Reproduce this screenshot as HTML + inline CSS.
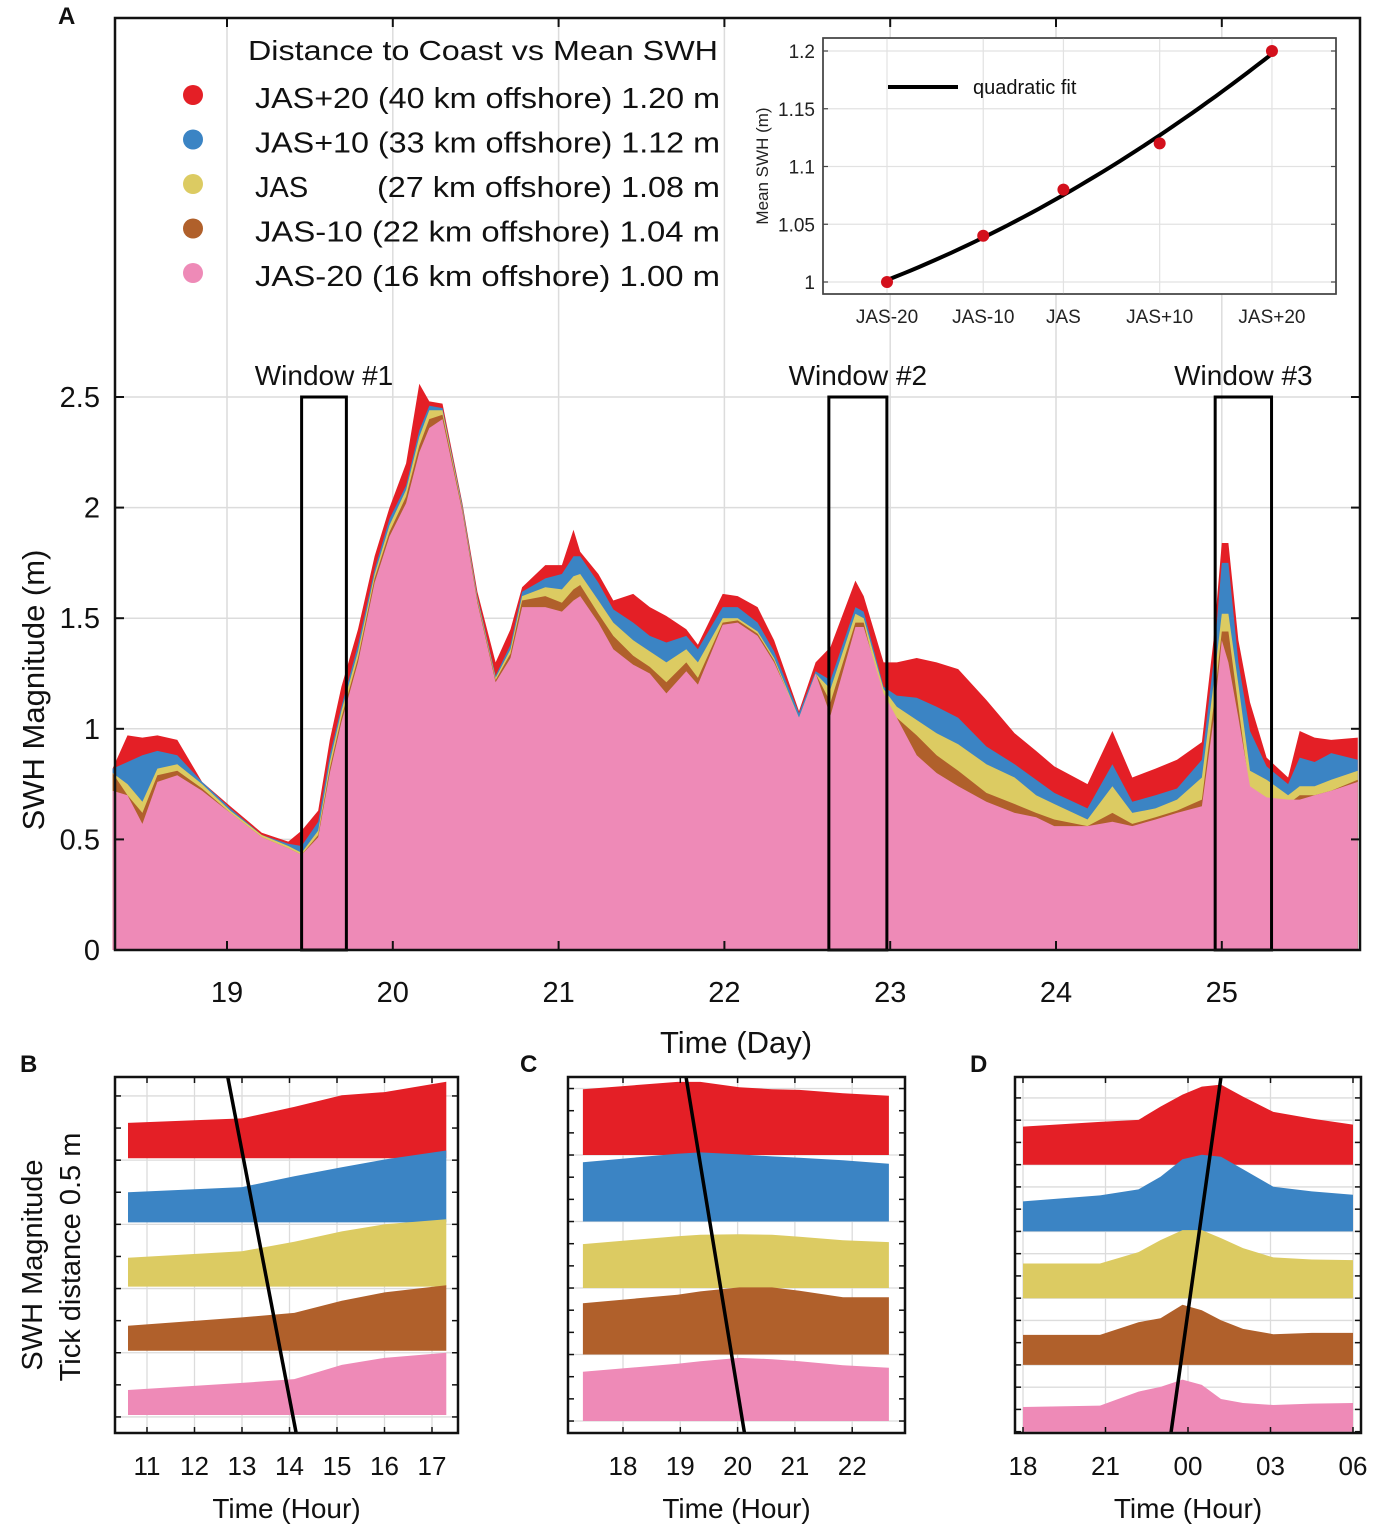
<!DOCTYPE html>
<html><head><meta charset="utf-8"><style>
html,body{margin:0;padding:0;background:#fff}
svg{display:block;font-family:"Liberation Sans",Arial,sans-serif}
</style></head><body>
<svg id="fig" width="1382" height="1540" viewBox="0 0 1382 1540" xmlns="http://www.w3.org/2000/svg">
<g id="mainG"></g>
<g id="insetG"></g>
<g id="bG"></g>
<g id="cG"></g>
<g id="dG"></g>
</svg>
<script>
// ---------- Panel A data ----------
const days = [18.31,18.40,18.49,18.58,18.70,18.85,19.02,19.21,19.37,19.45,19.55,19.62,19.69,19.79,19.89,19.98,20.08,20.16,20.22,20.30,20.42,20.51,20.62,20.71,20.78,20.92,21.02,21.09,21.13,21.24,21.33,21.45,21.55,21.65,21.77,21.84,21.99,22.08,22.20,22.30,22.45,22.55,22.64,22.79,22.84,22.96,23.04,23.16,23.28,23.41,23.58,23.75,23.88,23.99,24.19,24.34,24.46,24.60,24.73,24.88,24.95,25.00,25.04,25.10,25.17,25.27,25.40,25.47,25.56,25.66,25.82];
const swhPink = [0.72,0.70,0.57,0.76,0.79,0.72,0.62,0.51,0.46,0.43,0.51,0.80,1.03,1.30,1.66,1.87,2.02,2.25,2.36,2.40,1.98,1.57,1.21,1.32,1.55,1.55,1.53,1.58,1.60,1.48,1.36,1.29,1.25,1.16,1.26,1.20,1.47,1.48,1.42,1.30,1.05,1.25,1.06,1.46,1.46,1.16,1.05,0.88,0.80,0.74,0.67,0.62,0.60,0.56,0.56,0.58,0.56,0.59,0.62,0.65,1.04,1.40,1.30,1.05,0.74,0.69,0.68,0.68,0.70,0.72,0.76];
const swhBrown = [0.80,0.70,0.62,0.79,0.81,0.73,0.62,0.51,0.46,0.43,0.52,0.82,1.05,1.32,1.68,1.89,2.05,2.28,2.40,2.42,1.99,1.58,1.22,1.34,1.58,1.60,1.57,1.63,1.65,1.52,1.42,1.33,1.28,1.21,1.30,1.23,1.48,1.49,1.43,1.31,1.04,1.25,1.12,1.48,1.48,1.12,1.05,0.97,0.88,0.81,0.71,0.66,0.62,0.59,0.56,0.62,0.57,0.60,0.63,0.68,1.10,1.44,1.44,1.10,0.71,0.68,0.66,0.70,0.70,0.72,0.77];
const swhYellow = [0.80,0.75,0.67,0.82,0.84,0.75,0.63,0.52,0.47,0.44,0.54,0.85,1.08,1.35,1.70,1.92,2.08,2.32,2.44,2.44,2.00,1.59,1.23,1.36,1.60,1.64,1.63,1.69,1.70,1.58,1.48,1.40,1.35,1.30,1.36,1.30,1.50,1.50,1.44,1.32,1.05,1.25,1.18,1.52,1.50,1.18,1.10,1.04,0.98,0.93,0.84,0.78,0.70,0.66,0.59,0.74,0.62,0.64,0.68,0.78,1.20,1.52,1.52,1.20,0.81,0.77,0.70,0.74,0.74,0.77,0.81];
const swhBlue = [0.82,0.85,0.88,0.90,0.88,0.76,0.64,0.52,0.48,0.47,0.58,0.88,1.10,1.38,1.72,1.95,2.10,2.35,2.46,2.45,2.01,1.60,1.24,1.38,1.62,1.68,1.70,1.78,1.78,1.66,1.54,1.48,1.42,1.39,1.42,1.36,1.55,1.55,1.48,1.35,1.07,1.26,1.22,1.55,1.53,1.19,1.15,1.14,1.10,1.05,0.92,0.84,0.77,0.71,0.64,0.84,0.67,0.70,0.73,0.86,1.30,1.75,1.75,1.30,0.99,0.83,0.75,0.87,0.85,0.89,0.86];
const swhRed = [0.82,0.97,0.96,0.97,0.95,0.76,0.65,0.53,0.49,0.54,0.63,0.95,1.19,1.45,1.78,2.00,2.20,2.56,2.48,2.47,2.02,1.62,1.30,1.45,1.64,1.74,1.74,1.90,1.80,1.70,1.58,1.61,1.55,1.51,1.45,1.38,1.61,1.60,1.55,1.40,1.08,1.30,1.37,1.67,1.60,1.30,1.30,1.32,1.30,1.27,1.13,0.98,0.90,0.83,0.75,0.99,0.78,0.82,0.86,0.94,1.40,1.84,1.84,1.40,1.12,0.87,0.78,0.99,0.96,0.95,0.96];
const dayTicks = [19,20,21,22,23,24,25];
const swhTicks = [0,0.5,1,1.5,2,2.5];
const swhTickLabels = ["0","0.5","1","1.5","2","2.5"];
const windowStarts = [19.45,22.63,24.96];
const windowEnds = [19.72,22.98,25.30];
const windowLabels = ["Window #1","Window #2","Window #3"];
const legendLabels = ["JAS+20 (40 km offshore) 1.20 m","JAS+10 (33 km offshore) 1.12 m","JAS","JAS-10  (22 km offshore) 1.04 m","JAS-20  (16 km offshore) 1.00 m"];
// ---------- Inset data ----------
const insetCats = ["JAS-20","JAS-10","JAS","JAS+10","JAS+20"];
const insetKm = [16,22,27,33,40];
const insetMean = [1.00,1.04,1.08,1.12,1.20];
const insetTicks = [1,1.05,1.1,1.15,1.2];
const insetTickLabels = ["1","1.05","1.1","1.15","1.2"];
// ---------- Panel B data ----------
const bHours = [10.6,13.0,14.1,15.1,16.0,17.3];
const bRed = [0.55,0.62,0.80,0.98,1.03,1.19];
const bBlue = [0.47,0.55,0.72,0.86,0.98,1.12];
const bYellow = [0.45,0.55,0.70,0.86,0.97,1.05];
const bBrown = [0.39,0.52,0.59,0.78,0.91,1.02];
const bPink = [0.39,0.50,0.56,0.78,0.89,0.97];
const bTicks = [11,12,13,14,15,16,17];
const bTickLabels = ["11","12","13","14","15","16","17"];
const bLineHours = [12.7,14.14];
// ---------- Panel C data ----------
const cHours = [17.3,18.95,19.35,20.03,20.6,21.08,21.84,22.64];
const cRed = [0.99,1.10,1.10,1.02,0.99,0.98,0.93,0.89];
const cBlue = [0.89,1.02,1.04,1.01,0.98,0.96,0.92,0.87];
const cYellow = [0.66,0.78,0.80,0.81,0.80,0.77,0.72,0.69];
const cBrown = [0.77,0.90,0.95,1.01,1.01,0.96,0.86,0.86];
const cPink = [0.74,0.86,0.90,0.95,0.93,0.90,0.84,0.80];
const cTicks = [18,19,20,21,22];
const cTickLabels = ["18","19","20","21","22"];
const cLineHours = [19.1,20.12];
// ---------- Panel D data ----------
const dHours = [18,20.8,22.2,23.0,23.8,24.5,25.2,26.0,27.1,28.5,30];
const dRed = [0.57,0.64,0.67,0.87,1.05,1.17,1.20,1.02,0.79,0.69,0.60];
const dBlue = [0.45,0.54,0.63,0.82,1.08,1.15,1.12,0.93,0.67,0.60,0.55];
const dYellow = [0.52,0.52,0.69,0.87,1.02,1.02,0.90,0.75,0.61,0.58,0.57];
const dBrown = [0.45,0.45,0.64,0.70,0.90,0.82,0.67,0.54,0.46,0.48,0.48];
const dPink = [0.37,0.39,0.60,0.67,0.78,0.70,0.49,0.43,0.40,0.42,0.43];
const dTicks = [18,21,24,27,30];
const dTickLabels = ["18","21","00","03","06"];
const dLineHours = [25.2,23.38];

const COLORS = {red:"#e41f26",blue:"#3b84c4",yellow:"#dccb62",brown:"#b0602b",pink:"#ee8ab7"};
const NS = "http://www.w3.org/2000/svg";
function mk(parent, tag, attrs, text){
  const el = document.createElementNS(NS, tag);
  for (const k in attrs) el.setAttribute(k, attrs[k]);
  if (text !== undefined) el.textContent = text;
  parent.appendChild(el);
  return el;
}

// ================= PANEL A =================
(function(){
  const g = document.getElementById('mainG');
  const L=115, R=1360, T=18, B=950;
  const X = d => 227 + (d-19)*165.8;
  const Y = v => 950 - v*221.2;
  // gridlines
  dayTicks.forEach(d=>{
    const l = mk(g,'line',{x1:X(d),x2:X(d),y1:T,y2:B,stroke:'#dcdcdc','stroke-width':1.5});
    
    
  });
  swhTicks.forEach(v=>{
    if(v===0) return;
    const l = mk(g,'line',{x1:L,x2:R,y1:Y(v),y2:Y(v),stroke:'#dcdcdc','stroke-width':1.5});
    
    
  });
  const series = [["red",swhRed],["blue",swhBlue],["yellow",swhYellow],["brown",swhBrown],["pink",swhPink]];
  series.forEach(([name,vals])=>{
    let d = `M${X(days[0])},${Y(0)}`;
    vals.forEach((v,i)=>{ d += ` L${X(days[i]).toFixed(1)},${Y(v).toFixed(1)}`; });
    d += ` L${X(days[days.length-1])},${Y(0)} Z`;
    const p = mk(g,'path',{d:d,fill:COLORS[name]});
    
    
  });
  // windows
  windowStarts.forEach((s,i)=>{
    const r = mk(g,'rect',{x:X(s),y:Y(2.5),width:X(windowEnds[i])-X(s),height:Y(0)-Y(2.5),fill:'none',stroke:'#000','stroke-width':3});
    
    
    const t = mk(g,'text',{x:(X(s)+X(windowEnds[i]))/2,y:Y(2.5)-12,'font-size':28,'text-anchor':'middle',fill:'#111'},windowLabels[i]);
    
    
  });
  // axes box
  const ax = mk(g,'rect',{x:L,y:T,width:R-L,height:B-T,fill:'none',stroke:'#111','stroke-width':2.5});
  
  
  dayTicks.forEach((d,i)=>{
    mk(g,'line',{x1:X(d),x2:X(d),y1:T,y2:T+9,stroke:'#111','stroke-width':2});
    mk(g,'line',{x1:X(d),x2:X(d),y1:B,y2:B-9,stroke:'#111','stroke-width':2});
    const t = mk(g,'text',{x:X(d),y:1002,'font-size':29,'text-anchor':'middle',fill:'#111'},String(d));
    
    
  });
  swhTicks.forEach((v,i)=>{
    mk(g,'line',{x1:L,x2:L+9,y1:Y(v),y2:Y(v),stroke:'#111','stroke-width':2});
    mk(g,'line',{x1:R,x2:R-9,y1:Y(v),y2:Y(v),stroke:'#111','stroke-width':2});
    const t = mk(g,'text',{x:100,y:Y(v)+10,'font-size':29,'text-anchor':'end',fill:'#111'},swhTickLabels[i]);
    
    
  });
  const xl = mk(g,'text',{x:736,y:1053,'font-size':31,'text-anchor':'middle',fill:'#111'},'Time (Day)');
  
  
  const yl = mk(g,'text',{x:0,y:0,'font-size':31,'text-anchor':'middle',fill:'#111',transform:'translate(44,690) rotate(-90)'},'SWH Magnitude (m)');
  
  
  const pa = mk(g,'text',{x:58,y:24,'font-size':24,'font-weight':'bold',fill:'#111'},'A');
  
  
  // legend
  const lt = mk(g,'text',{x:248,y:60,'font-size':28,fill:'#111',textLength:470,lengthAdjust:'spacingAndGlyphs'},'Distance to Coast vs Mean SWH');
  
  
  const lcolors = ["red","blue","yellow","brown","pink"];
  lcolors.forEach((c,i)=>{
    const cy = 97 + i*44.5;
    const dot = mk(g,'circle',{cx:193,cy:cy-2,r:10,fill:COLORS[c]});
    
    
    if(i===2){
      const t1 = mk(g,'text',{x:255,y:cy+11,'font-size':29,fill:'#111'},'JAS');
      
      
      const t2 = mk(g,'text',{x:377,y:cy+11,'font-size':29,fill:'#111',textLength:343,lengthAdjust:'spacingAndGlyphs'},'(27 km offshore) 1.08 m');
      
      
    } else {
      const t = mk(g,'text',{x:255,y:cy+11,'font-size':29,fill:'#111',textLength:465,lengthAdjust:'spacingAndGlyphs','xml:space':'preserve'},legendLabels[i]);
      
      
    }
  });
})();

// ================= INSET =================
(function(){
  const g = document.getElementById('insetG');
  const L=823, R=1336, T=38, B=294;
  const X = km => 887 + (km-16)*16.04;
  const Y = v => 282 - (v-1)*1155;
  const bg = mk(g,'rect',{x:L,y:T,width:R-L,height:B-T,fill:'#fff',stroke:'#444','stroke-width':1.5});
  
  
  insetKm.forEach(k=>{ mk(g,'line',{x1:X(k),x2:X(k),y1:T,y2:B,stroke:'#e2e2e2','stroke-width':1.2}); });
  insetTicks.forEach((v,i)=>{
    mk(g,'line',{x1:L,x2:R,y1:Y(v),y2:Y(v),stroke:'#e2e2e2','stroke-width':1.2});
    mk(g,'line',{x1:L,x2:L+5,y1:Y(v),y2:Y(v),stroke:'#444','stroke-width':1.2});
    mk(g,'line',{x1:R,x2:R-5,y1:Y(v),y2:Y(v),stroke:'#444','stroke-width':1.2});
    const t = mk(g,'text',{x:815,y:Y(v)+7,'font-size':19,'text-anchor':'end',fill:'#222'},insetTickLabels[i]);
    
    
  });
  insetCats.forEach((c,i)=>{
    const t = mk(g,'text',{x:X(insetKm[i]),y:323,'font-size':19,'text-anchor':'middle',fill:'#222'},c);
    
    
  });
  mk(g,'rect',{x:L,y:T,width:R-L,height:B-T,fill:'none',stroke:'#444','stroke-width':1.5});
  // quadratic least-squares fit
  const n=insetKm.length; let S=[0,0,0,0,0], Ty=[0,0,0];
  for(let i=0;i<n;i++){const x=insetKm[i],y=insetMean[i];for(let p=0;p<5;p++)S[p]+=Math.pow(x,p);for(let p=0;p<3;p++)Ty[p]+=y*Math.pow(x,p);}
  const M=[[S[0],S[1],S[2],Ty[0]],[S[1],S[2],S[3],Ty[1]],[S[2],S[3],S[4],Ty[2]]];
  for(let i=0;i<3;i++){for(let j=i+1;j<3;j++){const f=M[j][i]/M[i][i];for(let k=i;k<4;k++)M[j][k]-=f*M[i][k];}}
  const cf=[0,0,0];
  for(let i=2;i>=0;i--){let s=M[i][3];for(let k=i+1;k<3;k++)s-=M[i][k]*cf[k];cf[i]=s/M[i][i];}
  let d='';
  for(let k=insetKm[0];k<=insetKm[n-1]+0.001;k+=0.5){const v=cf[0]+cf[1]*k+cf[2]*k*k;d+=(d?' L':'M')+X(k).toFixed(1)+','+Y(v).toFixed(1);}
  const fit = mk(g,'path',{d:d,fill:'none',stroke:'#000','stroke-width':4});
  
  
  insetKm.forEach((k,i)=>{
    const c = mk(g,'circle',{cx:X(k),cy:Y(insetMean[i]),r:6,fill:'#d3101c'});
    
    
  });
  mk(g,'line',{x1:888,x2:958,y1:87,y2:87,stroke:'#000','stroke-width':4});
  const lt = mk(g,'text',{x:973,y:94,'font-size':20,fill:'#111'},'quadratic fit');
  
  
  const yl = mk(g,'text',{x:0,y:0,'font-size':17,'text-anchor':'middle',fill:'#222',transform:'translate(768,166) rotate(-90)'},'Mean SWH (m)');
  
  
})();

// ================= SUB PANELS =================
function subPanel(gid, cfg){
  const g = document.getElementById(gid);
  const X = h => cfg.x0 + (h-cfg.h0)*cfg.pxh;
  const Y = v => cfg.B - v*cfg.pxm;
  // gridlines
  cfg.ticks.forEach(h=>{ mk(g,'line',{x1:X(h),x2:X(h),y1:cfg.T,y2:cfg.B,stroke:'#dcdcdc','stroke-width':1.3}); });
  for(let v=cfg.gridStart; Y(v)>cfg.T; v+=cfg.gridStep){
    mk(g,'line',{x1:cfg.L,x2:cfg.R,y1:Y(v),y2:Y(v),stroke:'#dcdcdc','stroke-width':1.3});
  }
  const names=["red","blue","yellow","brown","pink"];
  cfg.series.forEach((vals,si)=>{
    const base = cfg.offset + (4-si);
    let d = `M${X(cfg.hours[0]).toFixed(1)},${Y(base).toFixed(1)}`;
    vals.forEach((v,i)=>{ d += ` L${X(cfg.hours[i]).toFixed(1)},${Y(base+v).toFixed(1)}`; });
    d += ` L${X(cfg.hours[cfg.hours.length-1]).toFixed(1)},${Y(base).toFixed(1)} Z`;
    const p = mk(g,'path',{d:d,fill:COLORS[names[si]]});
    
    
  });
  const ln = mk(g,'line',{x1:X(cfg.line[0]),y1:cfg.T,x2:X(cfg.line[1]),y2:cfg.B,stroke:'#000','stroke-width':3.5});
  
  
  const box = mk(g,'rect',{x:cfg.L,y:cfg.T,width:cfg.R-cfg.L,height:cfg.B-cfg.T,fill:'none',stroke:'#111','stroke-width':2.5});
  
  
  for(let v=cfg.gridStart; Y(v)>cfg.T; v+=cfg.tickStep){
    mk(g,'line',{x1:cfg.L,x2:cfg.L+6,y1:Y(v),y2:Y(v),stroke:'#111','stroke-width':1.5});
    mk(g,'line',{x1:cfg.R,x2:cfg.R-6,y1:Y(v),y2:Y(v),stroke:'#111','stroke-width':1.5});
  }
  cfg.ticks.forEach((h,i)=>{
    mk(g,'line',{x1:X(h),x2:X(h),y1:cfg.B,y2:cfg.B-6,stroke:'#111','stroke-width':1.5});
    mk(g,'line',{x1:X(h),x2:X(h),y1:cfg.T,y2:cfg.T+6,stroke:'#111','stroke-width':1.5});
    const t = mk(g,'text',{x:X(h),y:1475,'font-size':26,'text-anchor':'middle',fill:'#111'},cfg.tickLabels[i]);
    
    
  });
  const xl = mk(g,'text',{x:(cfg.L+cfg.R)/2,y:1518,'font-size':28,'text-anchor':'middle',fill:'#111'},'Time (Hour)');
  
  
  const pl = mk(g,'text',{x:cfg.labelX,y:1072,'font-size':24,'font-weight':'bold',fill:'#111'},cfg.label);
  
  
}
subPanel('bG',{L:115,R:458,T:1077,B:1433,x0:147,h0:11,pxh:47.5,pxm:64.2,offset:0.28,gridStart:0.25,gridStep:1,tickStep:0.5,
  hours:bHours,series:[bRed,bBlue,bYellow,bBrown,bPink],ticks:bTicks,tickLabels:bTickLabels,line:bLineHours,label:'B',labelX:20});
subPanel('cG',{L:568,R:905,T:1077,B:1433,x0:623,h0:18,pxh:57.3,pxm:66.5,offset:0.18,gridStart:0.18,gridStep:1,tickStep:1/3,
  hours:cHours,series:[cRed,cBlue,cYellow,cBrown,cPink],ticks:cTicks,tickLabels:cTickLabels,line:cLineHours,label:'C',labelX:520});
subPanel('dG',{L:1015,R:1361,T:1077,B:1433,x0:1023,h0:18,pxh:27.5,pxm:66.75,offset:0.02,gridStart:0.02,gridStep:1/3,tickStep:1/3,
  hours:dHours,series:[dRed,dBlue,dYellow,dBrown,dPink],ticks:dTicks,tickLabels:dTickLabels,line:dLineHours,label:'D',labelX:970});
(function(){
  const g = document.getElementById('bG');
  const y1 = mk(g,'text',{x:0,y:0,'font-size':29,'text-anchor':'middle',fill:'#111',transform:'translate(42,1265) rotate(-90)'},'SWH Magnitude');
  
  
  const y2 = mk(g,'text',{x:0,y:0,'font-size':29,'text-anchor':'middle',fill:'#111',transform:'translate(80,1257) rotate(-90)'},'Tick distance 0.5 m');
  
  
})();
</script>
</body></html>
